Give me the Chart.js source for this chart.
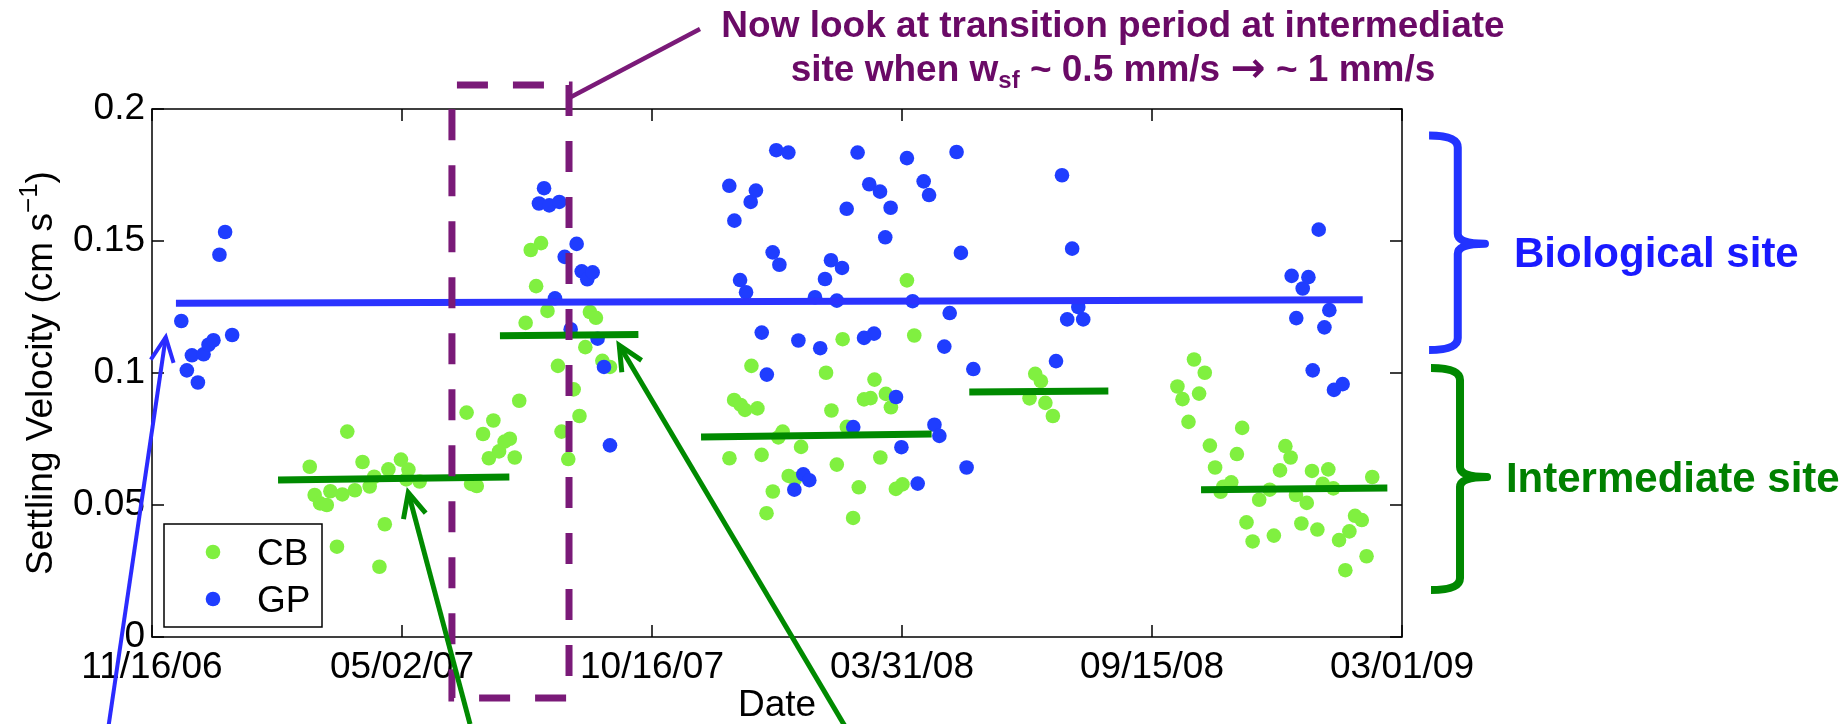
<!DOCTYPE html>
<html>
<head>
<meta charset="utf-8">
<title>Settling velocity</title>
<script src="https://cdn.jsdelivr.net/npm/chart.js@4.4.1/dist/chart.umd.min.js"></script>
<style>
  html, body { margin: 0; padding: 0; background: #ffffff; }
  #wrap { width: 1847px; height: 724px; position: relative; }
</style>
</head>
<body>
<div id="wrap"><canvas id="c" width="1847" height="724"></canvas></div>
<script>
// x values are days since 16 Nov 2006; y values are settling velocity in cm/s
const tickDays = [0, 167.2, 334.4, 501.6, 668.8, 836];
const tickLabels = ['11/16/06', '05/02/07', '10/16/07', '03/31/08', '09/15/08', '03/01/09'];
const yTicks = [0, 0.05, 0.1, 0.15, 0.2];
const yTickLabels = ['0', '0.05', '0.1', '0.15', '0.2'];

// CB (intermediate site) samples
const cbDays = [
  105.5, 108.8, 112.4, 116.9, 119.3, 123.7, 127.3, 130.6, 135.7, 140.8, 145.6, 148.6, 152.1, 155.7, 158.1, 166.5, 170.1, 171.5, 179,
  210.4, 213.4, 217.2, 221.4, 225.3, 228.3, 232.1, 235.8, 239.3, 242.6, 245.6, 249.9, 253.3, 256.9, 260.2, 264.5, 271.5, 273.9, 278.4, 282, 285.9, 289.8, 292.9, 296.9, 301.2, 306.3,
  386.2, 389.3, 393.7, 396.6, 400.9, 404.9, 407.7, 411, 415.2, 418.9, 421.8, 425.8, 430, 434.1, 450.8, 454.4, 458, 461.9, 464.7, 468.9, 472.7, 476.2, 480.6, 483.2, 487.1, 490.8, 494.2, 497.5, 501.9, 504.9, 509.8,
  586.9, 590.7, 594.5, 597.5, 602.5,
  685.8, 689.2, 693.2, 696.9, 700.3, 704.1, 707.5, 711, 714.7, 716.5, 721.8, 725.6, 729.1, 732, 736.1, 740.5, 747.5, 750.3, 754.4, 758, 761.5, 765.1, 768.7, 772.3, 775.8, 779.4, 783, 786.7, 790.1, 793.9, 798.1, 800.8, 804.6, 809.1, 812.3, 816.1
];
const cbVel = [
  0.0645, 0.0538, 0.0506, 0.0500, 0.0552, 0.0342, 0.0540, 0.0778, 0.0556, 0.0663, 0.0570, 0.0607, 0.0266, 0.0427, 0.0635, 0.0672, 0.0597, 0.0634, 0.0589,
  0.0850, 0.0580, 0.0572, 0.0769, 0.0677, 0.0820, 0.0703, 0.0740, 0.0751, 0.0680, 0.0895, 0.1190, 0.1466, 0.1329, 0.1492, 0.1235, 0.1027, 0.0778, 0.0674, 0.0938, 0.0837, 0.1098, 0.1231, 0.1209, 0.1046, 0.1023,
  0.0677, 0.0898, 0.0879, 0.0860, 0.1027, 0.0866, 0.0690, 0.0469, 0.0551, 0.0756, 0.0778, 0.0610, 0.0598, 0.0720, 0.1001, 0.0858, 0.0653, 0.1128, 0.0796, 0.0451, 0.0567, 0.0900, 0.0905, 0.0975, 0.0680, 0.0921, 0.0870, 0.0561, 0.0578, 0.1351, 0.1142,
  0.0904, 0.0997, 0.0969, 0.0887, 0.0837,
  0.0949, 0.0901, 0.0815, 0.1051, 0.0922, 0.1001, 0.0725, 0.0642, 0.0550, 0.0569, 0.0586, 0.0693, 0.0792, 0.0434, 0.0362, 0.0520, 0.0558, 0.0384, 0.0631, 0.0723, 0.0680, 0.0538, 0.0430, 0.0508, 0.0629, 0.0407, 0.0580, 0.0635, 0.0563, 0.0367, 0.0253, 0.0400, 0.0459, 0.0443, 0.0306, 0.0606
];

// GP (biological site) samples
const gpDays = [
  19.6, 23.3, 26.7, 30.7, 34.5, 37.8, 41.1, 45.1, 48.9, 53.6,
  258.8, 262.2, 265.7, 269.5, 272.4, 276, 280, 284, 287.4, 291.1, 294.7, 298, 302.3, 306.3,
  386.1, 389.5, 393.3, 397.3, 400.4, 403.9, 407.8, 411.2, 415.1, 417.5, 419.6,
  425.6, 429.6, 432.3, 435.6, 439.6, 443.4, 446.9, 450.1, 454.1, 458, 461.5, 464.6, 469, 471.9, 476.2, 479.7, 482.9, 486.9, 490.4, 494, 497.6, 501.2, 504.9, 508.7, 512.1, 516.1, 519.7, 523.3, 526.6, 529.9, 533.5, 538.1, 541, 544.8, 549.3,
  604.6, 608.6, 612.1, 615.4, 619.5, 622.8,
  762.2, 765.3, 769.6, 773.4, 776.3, 780.3, 784.1, 787.4, 790.5, 796.3
];
const gpVel = [
  0.1197, 0.1010, 0.1067, 0.0964, 0.1071, 0.1107, 0.1124, 0.1448, 0.1534, 0.1144,
  0.1642, 0.1700, 0.1635, 0.1283, 0.1648, 0.1440, 0.1166, 0.1489, 0.1385, 0.1355, 0.1381, 0.1130, 0.1023, 0.0726,
  0.1709, 0.1577, 0.1352, 0.1306, 0.1648, 0.1691, 0.1153, 0.0994, 0.1457, 0.1844, 0.1410,
  0.1835, 0.0558, 0.1123, 0.0616, 0.0594, 0.1287, 0.1094, 0.1356, 0.1427, 0.1274, 0.1398, 0.1622, 0.0795, 0.1835, 0.1133, 0.1715, 0.1149, 0.1687, 0.1514, 0.1626, 0.0909, 0.0719, 0.1814, 0.1272, 0.0581, 0.1726, 0.1674, 0.0804, 0.0762, 0.1100, 0.1227, 0.1837, 0.1455, 0.0642, 0.1015,
  0.1045, 0.1749, 0.1203, 0.1471, 0.1250, 0.1203,
  0.1368, 0.1208, 0.1320, 0.1363, 0.1010, 0.1543, 0.1173, 0.1238, 0.0936, 0.0958
];

// mean settling velocity: GP over the whole record, CB for each period
const gpMeanDays = [16.0, 809.7];
const gpMeanVel = [0.1264, 0.1277];
const cbMeanStartDays = [84.3, 232.7, 367.2, 546.6, 701.6];
const cbMeanEndDays = [239.0, 325.3, 521.4, 639.6, 826.2];
const cbMeanStartVel = [0.0595, 0.1141, 0.0758, 0.0928, 0.0558];
const cbMeanEndVel = [0.0606, 0.1146, 0.0769, 0.0932, 0.0564];

const FONT = "'Liberation Sans', Arial, Helvetica, sans-serif";
const CB_COLOR = '#80f040';
const GP_COLOR = '#1f3dff';
const PURPLE = '#7a1a78';
const PURPLE_TEXT = '#6a0a66';
const ARROW_BLUE = '#2b2bff';
const DARK_GREEN = '#008a00';

const cbPoints = cbDays.map((d, i) => ({ x: d, y: cbVel[i] }));
const gpPoints = gpDays.map((d, i) => ({ x: d, y: gpVel[i] }));
const gpMean = gpMeanDays.map((d, i) => ({ x: d, y: gpMeanVel[i] }));
const cbMean = [];
cbMeanStartDays.forEach((d, i) => {
  cbMean.push({ x: d, y: cbMeanStartVel[i] });
  cbMean.push({ x: cbMeanEndDays[i], y: cbMeanEndVel[i] });
  cbMean.push({ x: (cbMeanEndDays[i] + (cbMeanStartDays[i + 1] || cbMeanEndDays[i])) / 2, y: null });
});

function arrow(ctx, x0, y0, x1, y1, color, width) {
  const ang = Math.atan2(y1 - y0, x1 - x0);
  const head = 27, spread = 0.44;
  ctx.strokeStyle = color;
  ctx.lineWidth = width;
  ctx.lineCap = 'butt';
  ctx.lineJoin = 'miter';
  ctx.beginPath();
  ctx.moveTo(x0, y0);
  ctx.lineTo(x1, y1);
  ctx.stroke();
  ctx.beginPath();
  ctx.moveTo(x1 - head * Math.cos(ang - spread), y1 - head * Math.sin(ang - spread));
  ctx.lineTo(x1, y1);
  ctx.lineTo(x1 - head * Math.cos(ang + spread), y1 - head * Math.sin(ang + spread));
  ctx.stroke();
}

function bracket(ctx, xOpen, xSpine, xTip, yTop, yMid, yBot, color) {
  ctx.strokeStyle = color;
  ctx.lineWidth = 8;
  ctx.lineCap = 'butt';
  ctx.lineJoin = 'round';
  ctx.beginPath();
  ctx.moveTo(xOpen, yTop);
  ctx.quadraticCurveTo(xSpine, yTop, xSpine, yTop + 12);
  ctx.lineTo(xSpine, yMid - 10);
  ctx.quadraticCurveTo(xSpine, yMid, xTip, yMid);
  ctx.quadraticCurveTo(xSpine, yMid, xSpine, yMid + 10);
  ctx.lineTo(xSpine, yBot - 12);
  ctx.quadraticCurveTo(xSpine, yBot, xOpen, yBot);
  ctx.stroke();
}

function drawPieces(ctx, pieces, cx, baseline) {
  let total = 0;
  pieces.forEach(p => { ctx.font = p.font; p.w = ctx.measureText(p.text).width; total += p.w; });
  let xPos = cx - total / 2;
  pieces.forEach(p => {
    ctx.font = p.font;
    ctx.fillText(p.text, xPos, baseline + (p.dy || 0));
    xPos += p.w;
  });
}

const extras = {
  id: 'extras',
  afterDraw(chart) {
    const { ctx, chartArea: a, scales: { x, y } } = chart;
    const X = d => x.getPixelForValue(d);
    const Y = v => y.getPixelForValue(v);
    ctx.save();

    // axes box with inward ticks on all four sides
    ctx.strokeStyle = '#000';
    ctx.lineWidth = 1.5;
    ctx.setLineDash([]);
    ctx.strokeRect(a.left, a.top, a.right - a.left, a.bottom - a.top);
    const tl = 12;
    ctx.beginPath();
    tickDays.forEach(d => {
      const px = X(d);
      ctx.moveTo(px, a.bottom); ctx.lineTo(px, a.bottom - tl);
      ctx.moveTo(px, a.top); ctx.lineTo(px, a.top + tl);
    });
    yTicks.forEach(v => {
      const py = Y(v);
      ctx.moveTo(a.left, py); ctx.lineTo(a.left + tl, py);
      ctx.moveTo(a.right, py); ctx.lineTo(a.right - tl, py);
    });
    ctx.stroke();

    // y-axis title with superscript
    ctx.save();
    ctx.translate(52, (a.top + a.bottom) / 2);
    ctx.rotate(-Math.PI / 2);
    ctx.fillStyle = '#000';
    ctx.textBaseline = 'alphabetic';
    drawPieces(ctx, [
      { text: 'Settling Velocity (cm s', font: '37px ' + FONT },
      { text: '\u22121', font: '26px ' + FONT, dy: -15 },
      { text: ')', font: '37px ' + FONT }
    ], 0, 0);
    ctx.restore();

    // legend
    const lx = a.left + 12, ly = a.bottom - 113, lw = 158, lh = 103;
    ctx.fillStyle = '#fff';
    ctx.fillRect(lx, ly, lw, lh);
    ctx.strokeStyle = '#000';
    ctx.lineWidth = 1.5;
    ctx.strokeRect(lx, ly, lw, lh);
    const legendItems = [chart.data.datasets[3], chart.data.datasets[2]];
    legendItems.forEach((ds, i) => {
      const cy = ly + 28 + i * 47;
      ctx.fillStyle = ds.backgroundColor;
      ctx.beginPath();
      ctx.arc(lx + 49, cy, 7.3, 0, Math.PI * 2);
      ctx.fill();
      ctx.fillStyle = '#000';
      ctx.font = '37px ' + FONT;
      ctx.textBaseline = 'alphabetic';
      ctx.fillText(ds.label, lx + 93, cy + 13);
    });

    // dashed box around the transition period
    const bx0 = X(200.6), bx1 = X(278.9), byTop = Y(0.2091), byBot = Y(-0.0231);
    ctx.strokeStyle = PURPLE;
    ctx.lineWidth = 7;
    ctx.lineCap = 'butt';
    ctx.setLineDash([31, 25]);
    ctx.lineDashOffset = 51;
    ctx.beginPath();
    ctx.moveTo(bx0, byTop);
    ctx.lineTo(bx1, byTop);
    ctx.lineTo(bx1, byBot);
    ctx.lineTo(bx0, byBot);
    ctx.lineTo(bx0, byTop);
    ctx.stroke();
    ctx.setLineDash([]);

    // callout line to the note
    ctx.lineWidth = 4.5;
    ctx.beginPath();
    ctx.moveTo(X(278.9), Y(0.2042));
    ctx.lineTo(X(366.5), Y(0.2303));
    ctx.stroke();

    // note text
    ctx.fillStyle = PURPLE_TEXT;
    ctx.textBaseline = 'alphabetic';
    const noteCx = X(642.7);
    drawPieces(ctx, [{ text: 'Now look at transition period at intermediate', font: 'bold 37px ' + FONT }], noteCx, Y(0.2273));
    drawPieces(ctx, [
      { text: 'site when w', font: 'bold 37px ' + FONT },
      { text: 'sf', font: 'bold 24px ' + FONT, dy: 7 },
      { text: ' ~ 0.5 mm/s ', font: 'bold 37px ' + FONT },
      { text: '\u2192', font: "bold 42px 'DejaVu Sans', sans-serif", dy: 1 },
      { text: ' ~ 1 mm/s', font: 'bold 37px ' + FONT }
    ], noteCx, Y(0.2106));

    // arrows pointing at the means
    arrow(ctx, X(-29.4), Y(-0.035), X(9.2), Y(0.1136), ARROW_BLUE, 4);
    arrow(ctx, X(212.7), Y(-0.033), X(171.4), Y(0.0547), DARK_GREEN, 5);
    arrow(ctx, X(464.2), Y(-0.0345), X(312.5), Y(0.1105), DARK_GREEN, 5);

    // site brackets and labels
    bracket(ctx, X(854.1), X(873.3), X(891.5), Y(0.190), Y(0.149), Y(0.1087), '#2233ff');
    bracket(ctx, X(855.4), X(874.8), X(892.9), Y(0.1019), Y(0.0606), Y(0.0178), '#008800');
    ctx.font = 'bold 42px ' + FONT;
    ctx.fillStyle = '#1a1aff';
    ctx.fillText('Biological site', X(910.9), Y(0.1402));
    ctx.fillStyle = '#008000';
    ctx.fillText('Intermediate site', X(905.5), Y(0.0549));

    ctx.restore();
  }
};

new Chart(document.getElementById('c'), {
  type: 'scatter',
  data: {
    datasets: [
      { label: 'GP mean', type: 'line', data: gpMean, borderColor: '#2b33ff', borderWidth: 7, pointRadius: 0, fill: false, order: 0 },
      { label: 'CB mean', type: 'line', data: cbMean, borderColor: DARK_GREEN, borderWidth: 7, pointRadius: 0, fill: false, spanGaps: false, order: 0 },
      { label: 'GP', data: gpPoints, backgroundColor: GP_COLOR, borderWidth: 0, pointRadius: 7.3, order: 1 },
      { label: 'CB', data: cbPoints, backgroundColor: CB_COLOR, borderWidth: 0, pointRadius: 7.3, order: 2 }
    ]
  },
  options: {
    responsive: false,
    animation: false,
    events: [],
    layout: { padding: { top: 109, right: 445, bottom: 0, left: 0 } },
    plugins: { legend: { display: false }, tooltip: { enabled: false } },
    scales: {
      x: {
        type: 'linear',
        min: 0,
        max: 836,
        afterBuildTicks: s => { s.ticks = tickDays.map(v => ({ value: v })); },
        afterFit: s => { s.height = 87; },
        ticks: {
          callback: v => tickLabels[tickDays.indexOf(v)],
          font: { family: FONT, size: 37 },
          color: '#000',
          padding: 9,
          maxRotation: 0,
          autoSkip: false
        },
        grid: { display: false, drawTicks: false },
        border: { display: false },
        title: { display: true, text: 'Date', color: '#000', font: { family: FONT, size: 37, lineHeight: 1 }, padding: 0 }
      },
      y: {
        min: 0,
        max: 0.2,
        afterBuildTicks: s => { s.ticks = yTicks.map(v => ({ value: v })); },
        afterFit: s => { s.width = 152; },
        ticks: {
          callback: v => yTickLabels[yTicks.indexOf(v)],
          font: { family: FONT, size: 37 },
          color: '#000',
          padding: 7
        },
        grid: { display: false, drawTicks: false },
        border: { display: false }
      }
    }
  },
  plugins: [extras]
});
</script>
</body>
</html>
